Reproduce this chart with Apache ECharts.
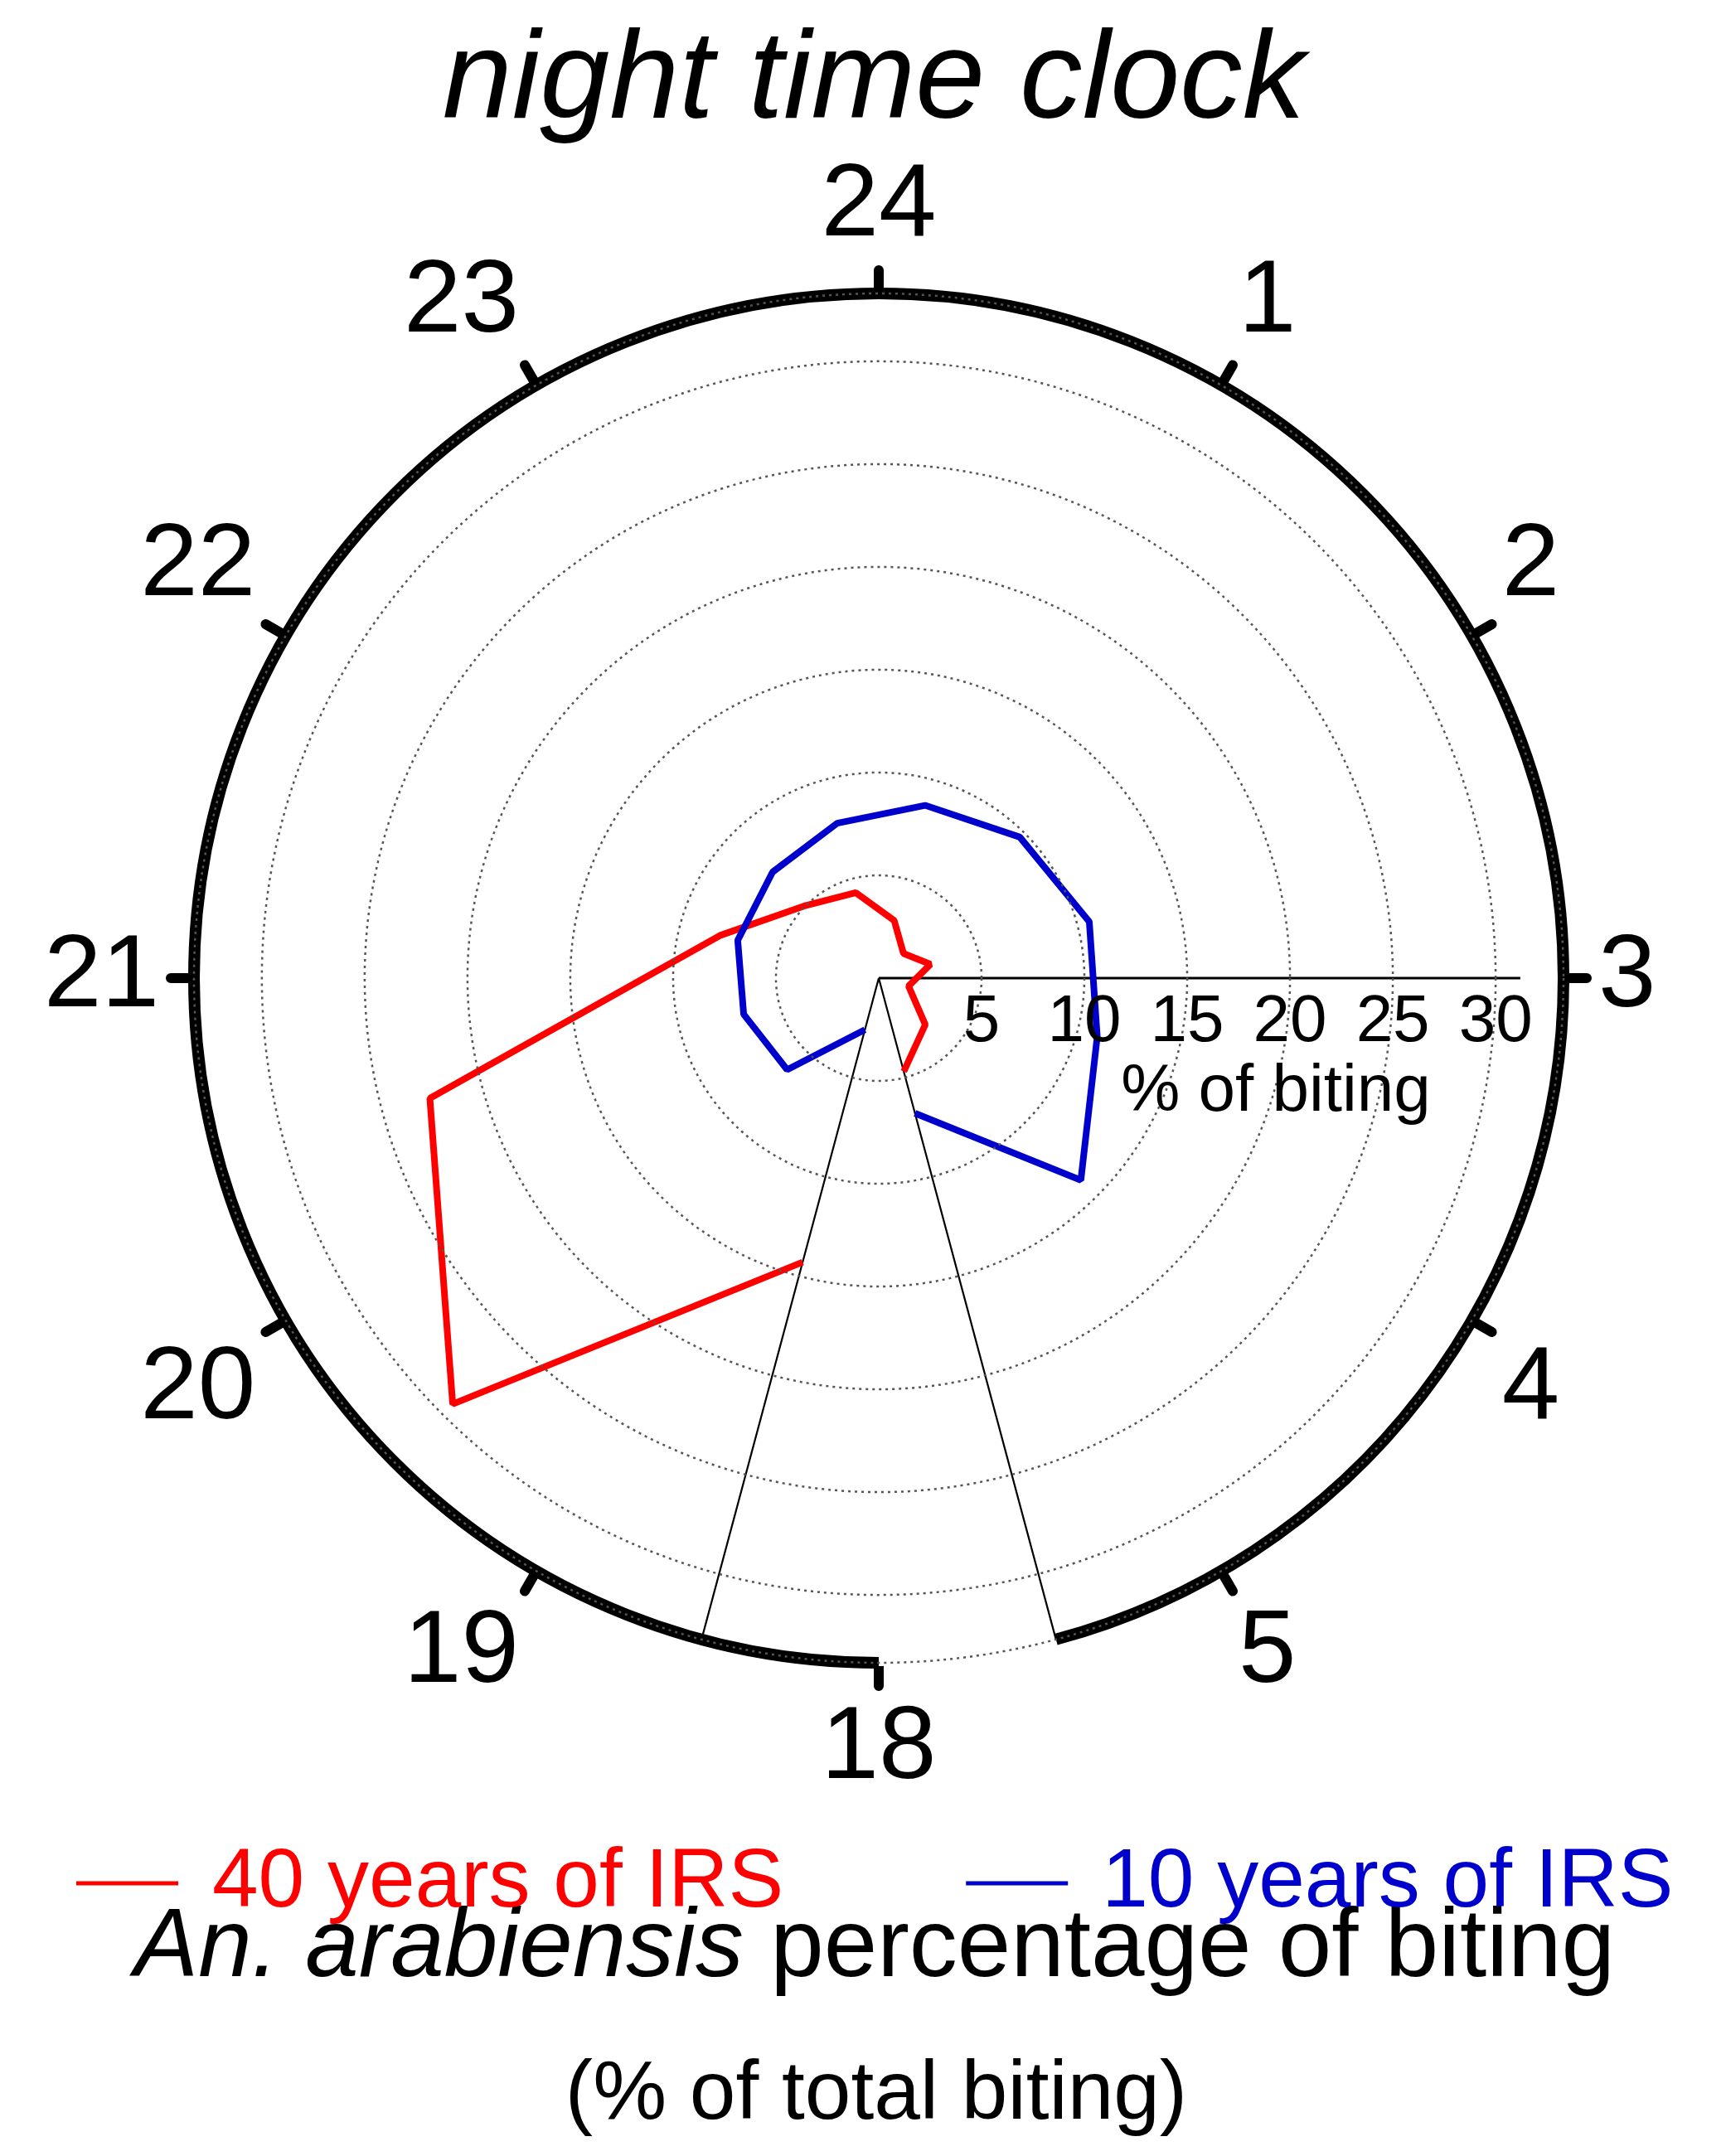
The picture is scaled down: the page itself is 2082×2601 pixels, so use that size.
<!DOCTYPE html>
<html><head><meta charset="utf-8">
<script src="https://cdn.jsdelivr.net/npm/echarts@6/dist/echarts.min.js"></script>
<style>html,body{margin:0;padding:0;background:#fff}#c{width:2082px;height:2601px}</style>
</head><body><div id="c"></div>
<script>
// Hours of the night (clock hours), data sampled every hour at half past
var hours = [18.5, 19.5, 20.5, 21.5, 22.5, 23.5, 0.5, 1.5, 2.5, 3.5, 4.5, 5.5];
var red40 = [14.3, 29.3, 22.6, 8.0, 5.0, 4.3, 2.9, 1.7, 2.6, 1.5, 3.2, 4.7];
var blue10 = [2.6, 6.3, 6.8, 7.1, 7.3, 7.8, 8.7, 9.7, 10.6, 11.0, 13.9, 6.8];
var radiusTicks = [5, 10, 15, 20, 25, 30];
var gapHours = [5.5, 18.5];
var RMAX = 33.3, AXIS_END = 31.2;
var F = 'Liberation Sans, Arial, sans-serif';

function hourToAngle(h) { return (h + 9) % 12; }
function angleToHour(v) {
  if (v >= 12) return '';
  var h = (v + 3) % 12;
  if (h === 0) return '24';
  if (h >= 6) return String(h + 12);
  return String(h);
}
function pairs(vals) { return vals.map(function (r, i) { return [r, hourToAngle(hours[i])]; }); }

var chart = echarts.init(document.getElementById('c'));
var gA = hourToAngle(gapHours[0]), gB = hourToAngle(gapHours[1]);
chart.setOption({
  backgroundColor: '#fff',
  animation: false,
  polar: { center: [1060, 1180], radius: 826 },
  angleAxis: {
    type: 'value', min: 0, max: 12, interval: 1, startAngle: 0, clockwise: true,
    axisLine: { show: false },
    axisTick: { show: true, inside: false, length: 28, lineStyle: { color: '#000', width: 12, cap: 'round' } },
    splitLine: { show: false },
    axisLabel: { margin: 42, formatter: angleToHour, fontSize: 125, color: '#000', fontFamily: F }
  },
  radiusAxis: {
    type: 'value', min: 0, max: RMAX, interval: 5,
    axisLine: { show: false }, axisTick: { show: false },
    splitLine: { show: true, showMaxLine: false, lineStyle: { color: '#555', width: 2.5, type: [3, 5] } },
    axisLabel: {
      show: true, fontSize: 80, color: '#000', fontFamily: F, margin: -14, verticalAlign: 'top',
      formatter: function (v) { return radiusTicks.indexOf(v) >= 0 ? String(v) : ''; }
    },
    z: 5
  },
  legend: {
    left: 87, top: 2217, itemWidth: 123, itemHeight: 5, itemGap: 220, icon: 'rect',
    textStyle: { fontSize: 100, fontFamily: F, padding: [0, 0, 0, 36] },
    data: [
      { name: '40 years of IRS', textStyle: { color: '#ff0000' } },
      { name: '10 years of IRS', textStyle: { color: '#0000cc' } }
    ]
  },
  graphic: [
    { type: 'text', x: 1054, y: 100, style: { text: 'night time clock', font: 'italic 151px ' + F, fill: '#000', textAlign: 'center', textVerticalAlign: 'middle' } },
    { type: 'text', x: 1539, y: 1318, z: 10, style: { text: '% of biting', font: '80px ' + F, fill: '#000', textAlign: 'center', textVerticalAlign: 'middle' } },
    { type: 'text', x: 1055, y: 2352, style: { text: '{i|An. arabiensis} percentage of biting', font: '116px ' + F, fill: '#000', textAlign: 'center', textVerticalAlign: 'middle', rich: { i: { fontStyle: 'italic', fontSize: 116, fontFamily: F } } } },
    { type: 'text', x: 1057, y: 2528, style: { text: '(% of total biting)', font: '100px ' + F, fill: '#000', textAlign: 'center', textVerticalAlign: 'middle' } }
  ],
  series: [
    {
      type: 'custom', coordinateSystem: 'polar', data: [[0, 0]], z: 1, clip: false, silent: true,
      renderItem: function (params, api) {
        var cs = params.coordSys;
        var d = Math.PI / 180;
        return { type: 'group', children: [
          { type: 'sector', shape: { cx: cs.cx, cy: cs.cy, r0: 0, r: cs.r + 4, startAngle: gA * 30 * d, endAngle: gB * 30 * d, clockwise: true }, style: { fill: '#fff' } },
          { type: 'arc', shape: { cx: cs.cx, cy: cs.cy, r: cs.r, startAngle: 90 * d, endAngle: (360 + gA * 30) * d, clockwise: true }, style: { stroke: '#000', lineWidth: 14, fill: null } }
        ] };
      }
    },
    {
      type: 'line', coordinateSystem: 'polar', z: 3, symbol: 'none', silent: true,
      lineStyle: { color: '#000', width: 2.2 },
      data: [[RMAX, gB], [0, 0], [RMAX, gA]]
    },
    {
      type: 'line', coordinateSystem: 'polar', z: 3, symbol: 'none', silent: true,
      lineStyle: { color: '#000', width: 3 },
      data: [[0, 0], [AXIS_END, 0]]
    },
    { name: '40 years of IRS', type: 'line', coordinateSystem: 'polar', z: 4, symbol: 'none', color: '#ff0000', lineStyle: { width: 8 }, data: pairs(red40) },
    { name: '10 years of IRS', type: 'line', coordinateSystem: 'polar', z: 4, symbol: 'none', color: '#0000cc', lineStyle: { width: 8 }, data: pairs(blue10) }
  ]
});
</script></body></html>
